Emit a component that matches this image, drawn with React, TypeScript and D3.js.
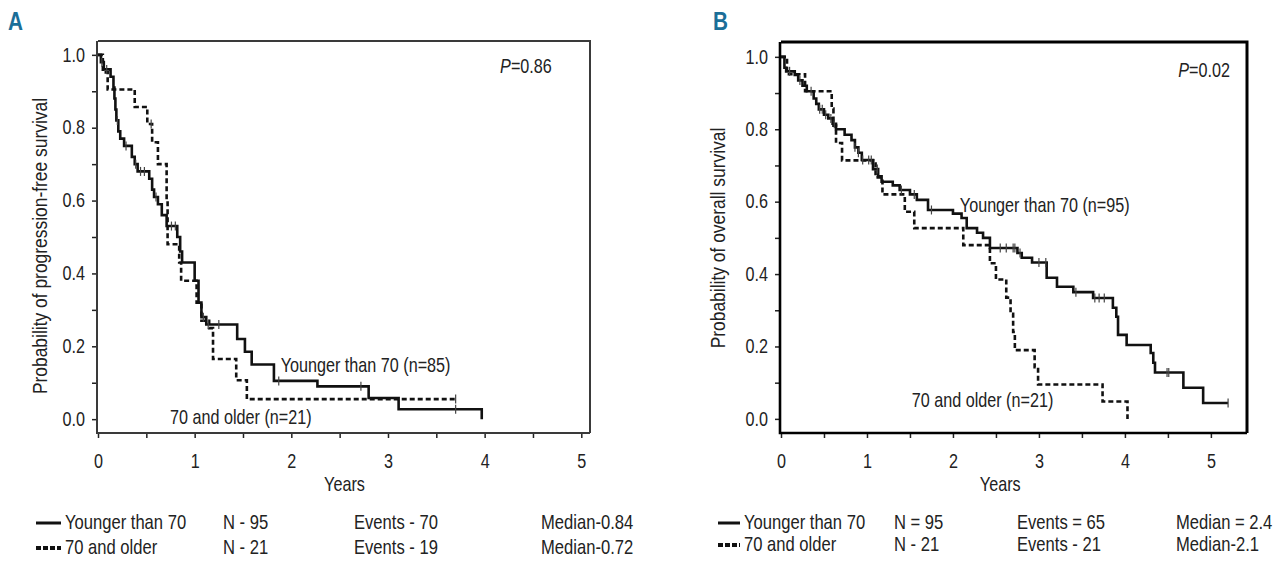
import React, { useEffect, useRef } from 'react';
import * as d3 from 'd3';

// ---- Panel A: progression-free survival ----
const pfsYoungTimes = [0.03, 0.06, 0.13, 0.16, 0.17, 0.18, 0.19, 0.21, 0.23, 0.27, 0.35, 0.38, 0.41, 0.53, 0.56, 0.58, 0.62, 0.66, 0.71, 0.82, 0.85, 0.87, 1.0, 1.04, 1.07, 1.12, 1.44, 1.52, 1.59, 1.82, 2.27, 2.8, 3.11, 3.97];
const pfsYoungSurv = [0.98, 0.96, 0.94, 0.91, 0.88, 0.85, 0.82, 0.79, 0.77, 0.75, 0.72, 0.7, 0.68, 0.66, 0.63, 0.61, 0.59, 0.56, 0.53, 0.5, 0.46, 0.43, 0.38, 0.32, 0.28, 0.26, 0.22, 0.185, 0.15, 0.105, 0.09, 0.058, 0.027, 0.0];
const pfsYoungCensor = [0.04, 0.09, 0.2, 0.29, 0.39, 0.44, 0.48, 0.6, 0.76, 0.8, 1.09, 1.14, 1.25, 1.87, 2.72, 3.7];

const pfsOldTimes = [0.05, 0.1, 0.38, 0.51, 0.56, 0.62, 0.71, 0.72, 0.84, 0.86, 1.02, 1.07, 1.15, 1.19, 1.43, 1.54];
const pfsOldSurv = [0.952, 0.905, 0.857, 0.81, 0.76, 0.7, 0.6, 0.48, 0.43, 0.38, 0.32, 0.27, 0.25, 0.165, 0.107, 0.055];
const pfsOldCensor = [0.55, 3.7];

// ---- Panel B: overall survival ----
const osYoungTimes = [0.04, 0.06, 0.16, 0.2, 0.25, 0.3, 0.38, 0.41, 0.44, 0.5, 0.55, 0.6, 0.64, 0.74, 0.82, 0.86, 0.9, 0.94, 1.07, 1.13, 1.17, 1.3, 1.38, 1.5, 1.58, 1.71, 2.0, 2.1, 2.16, 2.28, 2.35, 2.43, 2.75, 2.8, 2.92, 3.09, 3.21, 3.4, 3.63, 3.86, 3.9, 3.92, 4.02, 4.3, 4.33, 4.35, 4.68, 4.91];
const osYoungSurv = [0.97, 0.96, 0.95, 0.935, 0.92, 0.905, 0.885, 0.87, 0.855, 0.84, 0.83, 0.815, 0.8, 0.785, 0.77, 0.75, 0.735, 0.715, 0.69, 0.67, 0.655, 0.645, 0.632, 0.62, 0.605, 0.577, 0.567, 0.555, 0.527, 0.514, 0.5, 0.472, 0.458, 0.445, 0.432, 0.39, 0.365, 0.35, 0.334, 0.307, 0.282, 0.232, 0.204, 0.182, 0.155, 0.128, 0.086, 0.044];
const osYoungCensor = [0.1, 0.22, 0.35, 0.45, 0.48, 0.52, 0.58, 0.62, 0.86, 0.9, 0.95, 1.02, 1.05, 1.12, 1.4, 1.55, 1.75, 2.55, 2.62, 2.7, 2.72, 2.78, 3.0, 3.08, 3.43, 3.65, 3.7, 3.76, 4.49, 4.51, 5.2];

const osOldTimes = [0.07, 0.28, 0.59, 0.61, 0.64, 0.71, 1.1, 1.18, 1.44, 1.55, 2.12, 2.43, 2.5, 2.62, 2.67, 2.7, 2.72, 2.95, 2.99, 3.74, 4.03];
const osOldSurv = [0.952, 0.905, 0.857, 0.81, 0.762, 0.714, 0.667, 0.62, 0.572, 0.527, 0.48, 0.43, 0.385, 0.335, 0.29, 0.24, 0.19, 0.143, 0.095, 0.048, 0.0];
const osOldCensor: number[] = [];

// ---- ticks & texts ----
const xTickValues = [0, 0.5, 1, 1.5, 2, 2.5, 3, 3.5, 4, 4.5, 5];
const yTickValues = [0, 0.1, 0.2, 0.3, 0.4, 0.5, 0.6, 0.7, 0.8, 0.9, 1.0];

const groupNames = ['Younger than 70', '70 and older'];
const legendA = {
  n: ['N - 95', 'N - 21'],
  events: ['Events - 70', 'Events - 19'],
  median: ['Median-0.84', 'Median-0.72'],
};
const legendB = {
  n: ['N = 95', 'N - 21'],
  events: ['Events = 65', 'Events - 21'],
  median: ['Median = 2.4', 'Median-2.1'],
};

// condensed look: Arial-metric font squeezed horizontally
const FONT = '"Liberation Sans", Arial, sans-serif';
const SQUEEZE = 0.83;
const FS = 19.5;
const INK = '#222';
const TEAL = '#1b6e98';

interface PanelConfig {
  letter: string;
  letterX: number;
  left: number;
  right: number;
  top: number;
  bottom: number;
  xMax: number;
  yMin: number;
  yMax: number;
  frameColor: string;
  frameWidth: number;
  axisWidth: number;
  yLabel: string;
  yLabelX: number;
  yLabelY: number;
  pValue: string;
  pAt: [number, number];
  youngLabel: string;
  youngAt: [number, number];
  oldLabel: string;
  oldAt: [number, number];
  young: { t: number[]; s: number[]; c: number[] };
  old: { t: number[]; s: number[]; c: number[] };
  legend: { n: string[]; events: string[]; median: string[] };
  legendCols: number[];
  legendRows: number[];
}

type G = d3.Selection<SVGGElement, unknown, null, undefined>;

function stepPoints(t: number[], s: number[], c: number[]): [number, number][] {
  const pts: [number, number][] = [[0, 1]];
  t.forEach((ti, i) => pts.push([ti, s[i]]));
  const lastT = Math.max(t[t.length - 1], c.length ? d3.max(c)! : 0);
  if (lastT > t[t.length - 1]) pts.push([lastT, s[s.length - 1]]);
  return pts;
}

function survAt(t: number[], s: number[], x: number): number {
  const i = d3.bisectRight(t, x);
  return i === 0 ? 1 : s[i - 1];
}

// squeezed text placed at (px, py)
function label(g: G, txt: string, px: number, py: number, size = FS, anchor = 'start', rotate = 0) {
  return g
    .append('text')
    .attr('transform', `translate(${px},${py}) rotate(${rotate}) scale(${SQUEEZE},1)`)
    .attr('text-anchor', anchor)
    .attr('font-family', FONT)
    .attr('font-size', size)
    .attr('fill', INK)
    .text(txt);
}

function drawPanel(root: SVGGElement, cfg: PanelConfig) {
  const g = d3.select(root) as G;
  g.selectAll('*').remove();

  const x = d3.scaleLinear().domain([0, cfg.xMax]).range([cfg.left, cfg.right]);
  const y = d3.scaleLinear().domain([cfg.yMin, cfg.yMax]).range([cfg.bottom, cfg.top]);

  // panel letter
  label(g, cfg.letter, cfg.letterX, 30, 25).attr('fill', TEAL).attr('font-weight', 'bold');

  // frame (top/right)
  g.append('path')
    .attr('d', `M${cfg.left},${cfg.top}H${cfg.right}V${cfg.bottom}`)
    .attr('fill', 'none')
    .attr('stroke', cfg.frameColor)
    .attr('stroke-width', cfg.frameWidth);

  // y axis
  const yAxis = d3
    .axisLeft(y)
    .tickValues(yTickValues)
    .tickSize(5)
    .tickPadding(7)
    .tickFormat((v) => (Math.round((v as number) * 10) % 2 === 0 ? d3.format('.1f')(v as number) : ''));
  g.append('g')
    .attr('transform', `translate(${cfg.left - 1},0)`)
    .call(yAxis)
    .call((a) => a.select('.domain').remove())
    .call((a) => a.selectAll('.tick line').attr('stroke', INK).attr('stroke-width', 1.5))
    .call((a) =>
      a
        .selectAll<SVGTextElement, number>('.tick text')
        .attr('fill', INK)
        .attr('font-size', FS)
        .attr('font-family', FONT)
        .attr('x', -12 / SQUEEZE)
        .attr('transform', `scale(${SQUEEZE},1)`)
    );

  // x axis
  const xAxis = d3
    .axisBottom(x)
    .tickValues(xTickValues)
    .tickSize(5)
    .tickPadding(16)
    .tickFormat((v) => (Number.isInteger(v as number) ? d3.format('d')(v as number) : ''));
  g.append('g')
    .attr('transform', `translate(0,${cfg.bottom})`)
    .call(xAxis)
    .call((a) => a.select('.domain').remove())
    .call((a) => a.selectAll('.tick line').attr('stroke', INK).attr('stroke-width', 1.5))
    .call((a) =>
      a
        .selectAll('.tick text')
        .attr('fill', INK)
        .attr('font-size', FS)
        .attr('font-family', FONT)
        .attr('transform', `scale(${SQUEEZE},1)`)
    );

  // axis lines (left & bottom)
  g.append('path')
    .attr('d', `M${cfg.left - 1},${cfg.top}V${cfg.bottom}H${cfg.right}`)
    .attr('fill', 'none')
    .attr('stroke', cfg.frameColor)
    .attr('stroke-width', cfg.axisWidth);

  // axis titles
  label(g, cfg.yLabel, cfg.yLabelX, cfg.yLabelY, 21, 'middle', -90);
  label(g, 'Years', x(2.55), 491, FS, 'middle');

  // curves
  const line = d3
    .line<[number, number]>()
    .x((d) => x(d[0]))
    .y((d) => y(d[1]))
    .curve(d3.curveStepAfter);

  const curves = [
    { data: cfg.old, dash: '5,3' },
    { data: cfg.young, dash: null as string | null },
  ];
  curves.forEach(({ data, dash }) => {
    g.append('path')
      .attr('d', line(stepPoints(data.t, data.s, data.c)))
      .attr('fill', 'none')
      .attr('stroke', '#111')
      .attr('stroke-width', 2.6)
      .attr('stroke-dasharray', dash);

    g.selectAll(null)
      .data(data.c)
      .enter()
      .append('line')
      .attr('x1', (d) => x(d))
      .attr('x2', (d) => x(d))
      .attr('y1', (d) => y(survAt(data.t, data.s, d)) - 4.5)
      .attr('y2', (d) => y(survAt(data.t, data.s, d)) + 4.5)
      .attr('stroke', '#444')
      .attr('stroke-width', 1.2);
  });

  // annotations
  label(g, cfg.youngLabel, x(cfg.youngAt[0]), y(cfg.youngAt[1]));
  label(g, cfg.oldLabel, x(cfg.oldAt[0]), y(cfg.oldAt[1]));
  const p = label(g, '', x(cfg.pAt[0]), y(cfg.pAt[1]));
  p.append('tspan').attr('font-style', 'italic').text('P');
  p.append('tspan').text(cfg.pValue);

  // legend
  const [c0, c1, c2, c3, c4] = cfg.legendCols;
  groupNames.forEach((name, i) => {
    const ry = cfg.legendRows[i];
    g.append('line')
      .attr('x1', c0)
      .attr('x2', c1 - 4)
      .attr('y1', ry - 6)
      .attr('y2', ry - 6)
      .attr('stroke', '#111')
      .attr('stroke-width', i === 0 ? 3 : 4)
      .attr('stroke-dasharray', i === 0 ? null : '5,2');
    const cols = [name, cfg.legend.n[i], cfg.legend.events[i], cfg.legend.median[i]];
    [c1, c2, c3, c4].forEach((cx, j) => label(g, cols[j], cx, ry, 20));
  });
}

const panelA: PanelConfig = {
  letter: 'A',
  letterX: 8,
  left: 98,
  right: 590,
  top: 41,
  bottom: 433,
  xMax: 5.09,
  yMin: -0.038,
  yMax: 1.038,
  frameColor: '#3a3a3a',
  frameWidth: 2,
  axisWidth: 2,
  yLabel: 'Probability of progression-free survival',
  yLabelX: 47,
  yLabelY: 246,
  pValue: '=0.86',
  pAt: [4.16, 0.95],
  youngLabel: 'Younger than 70 (n=85)',
  youngAt: [1.89, 0.13],
  oldLabel: '70 and older (n=21)',
  oldAt: [0.745, -0.014],
  young: { t: pfsYoungTimes, s: pfsYoungSurv, c: pfsYoungCensor },
  old: { t: pfsOldTimes, s: pfsOldSurv, c: pfsOldCensor },
  legend: legendA,
  legendCols: [36, 65, 223, 354, 541],
  legendRows: [529, 554],
};

const panelB: PanelConfig = {
  letter: 'B',
  letterX: 713,
  left: 781,
  right: 1247,
  top: 42,
  bottom: 433,
  xMax: 5.42,
  yMin: -0.039,
  yMax: 1.041,
  frameColor: '#000',
  frameWidth: 3,
  axisWidth: 2.6,
  yLabel: 'Probability of overall survival',
  yLabelX: 725,
  yLabelY: 238,
  pValue: '=0.02',
  pAt: [4.62, 0.945],
  youngLabel: 'Younger than 70 (n=95)',
  youngAt: [2.08, 0.572],
  oldLabel: '70 and older (n=21)',
  oldAt: [1.52, 0.033],
  young: { t: osYoungTimes, s: osYoungSurv, c: osYoungCensor },
  old: { t: osOldTimes, s: osOldSurv, c: osOldCensor },
  legend: legendB,
  legendCols: [718, 744, 894, 1017, 1176],
  legendRows: [529, 551],
};

const SurvivalPanels: React.FC = () => {
  const aRef = useRef<SVGGElement>(null);
  const bRef = useRef<SVGGElement>(null);

  useEffect(() => {
    if (aRef.current) drawPanel(aRef.current, panelA);
    if (bRef.current) drawPanel(bRef.current, panelB);
  }, []);

  return (
    <svg width={1280} height={575} style={{ display: 'block', background: '#fff' }}>
      <g ref={aRef} />
      <g ref={bRef} />
    </svg>
  );
};

export default function App() {
  return (
    <div style={{ position: 'fixed', left: 0, top: 0, width: 1280, height: 575, background: '#fff' }}>
      <SurvivalPanels />
    </div>
  );
}
